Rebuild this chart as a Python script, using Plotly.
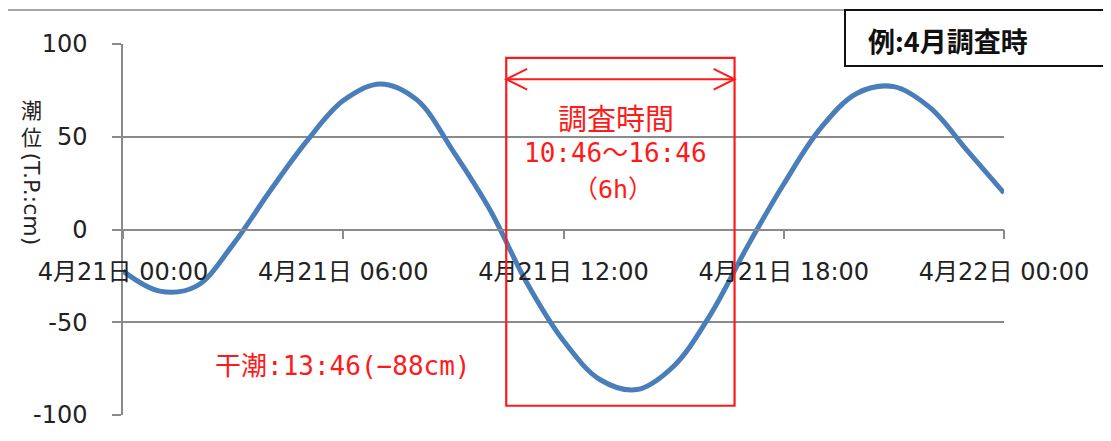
import plotly.graph_objects as go

# ---- data (hourly) ----
hours = list(range(0, 25))
tide_cm = [-22.4, -33.2, -30.5, -8, 20.6, 47.5, 69.5, 78.5, 70, 42, 10.5,
           -28.7, -60, -81, -86.3, -73.7, -46, -9.5, 24.5, 54.5, 73.5, 77,
           65.4, 42.5, 19.7]

tick_hours = [0, 6, 12, 18, 24]
tick_labels = ["4月21日 00:00", "4月21日 06:00", "4月21日 12:00",
               "4月21日 18:00", "4月22日 00:00"]
y_ticks = [-100, -50, 0, 50, 100]
y_labels = ["-100", "-50", "0", "50", "100"]

survey_start, survey_end = 10.44, 16.66   # red box edges as drawn
box_bottom, box_top = -95, 92.5
arrow_y = 81

W, H = 1111, 441
OFF = 8  # page body margin
# plot area in page pixels: x 123..1004, y 44..415
L, T = 123 - OFF, 44 - OFF
R = W - (1004 - OFF)
B = H - (415 - OFF)
FONT = "DejaVu Sans, Noto Sans CJK JP, sans-serif"
JFONT = "Noto Sans CJK JP, sans-serif"
MFONT = "DejaVu Sans Mono, Noto Sans CJK JP, monospace"
GRID = "#8a8a8a"
RED = "#ff1a1a"


def px_x(px):
    return (px - OFF - L) / (W - L - R)


def px_y(py):
    return (H - B - (py - OFF)) / (H - T - B)


fig = go.Figure()
fig.add_trace(go.Scatter(
    x=hours, y=tide_cm, mode="lines",
    line=dict(color="#4a7ebb", width=5, shape="spline", smoothing=1.0),
    hoverinfo="skip", showlegend=False))

shapes = []
shapes.append(dict(type="rect", xref="x", yref="y", x0=survey_start, x1=survey_end,
                   y0=box_bottom, y1=box_top, line=dict(color=RED, width=2.2)))
shapes.append(dict(type="line", xref="x", yref="y", x0=survey_start, x1=survey_end,
                   y0=arrow_y, y1=arrow_y, line=dict(color=RED, width=2)))
dx, dy = 0.57, 5.6
shapes.append(dict(type="path", xref="x", yref="y",
                   path=f"M {survey_start+dx},{arrow_y+dy} L {survey_start},{arrow_y} L {survey_start+dx},{arrow_y-dy}",
                   line=dict(color=RED, width=2)))
shapes.append(dict(type="path", xref="x", yref="y",
                   path=f"M {survey_end-dx},{arrow_y+dy} L {survey_end},{arrow_y} L {survey_end-dx},{arrow_y-dy}",
                   line=dict(color=RED, width=2)))
shapes.append(dict(type="line", xref="paper", yref="paper", x0=px_x(8), x1=px_x(845),
                   y0=px_y(10), y1=px_y(10), line=dict(color=GRID, width=1.5)))
shapes.append(dict(type="rect", xref="paper", yref="paper", x0=px_x(845), x1=px_x(1130),
                   y0=px_y(66), y1=px_y(10), line=dict(color="#111", width=2),
                   fillcolor="white"))

annotations = []
annotations.append(dict(xref="paper", yref="paper", x=px_x(866), y=px_y(40),
                        xanchor="left", yanchor="middle", showarrow=False,
                        text="<b>例:4月調査時</b>",
                        font=dict(family=JFONT, size=27, color="#111")))
annotations.append(dict(xref="x", yref="y", x=13.42, y=60.8, showarrow=False,
                        text="調査時間", xanchor="center", yanchor="middle",
                        font=dict(family=JFONT, size=29, color=RED)))
annotations.append(dict(xref="x", yref="y", x=13.42, y=41.4, showarrow=False,
                        text="10:46〜16:46", xanchor="center", yanchor="middle",
                        font=dict(family=MFONT, size=26, color=RED)))
annotations.append(dict(xref="x", yref="y", x=13.35, y=21.5, showarrow=False,
                        text="（6h）", xanchor="center", yanchor="middle",
                        font=dict(family=MFONT, size=25, color=RED)))
annotations.append(dict(xref="x", yref="y", x=2.45, y=-73.7, showarrow=False,
                        text="干潮:13:46(−88cm)", xanchor="left", yanchor="middle",
                        font=dict(family=MFONT, size=26, color=RED)))
# vertical-style y-axis title: upright kanji, then rotated Latin part
annotations.append(dict(xref="paper", yref="paper", x=px_x(31), y=px_y(92),
                        showarrow=False, text="潮<br>位", xanchor="center", yanchor="top",
                        font=dict(family=JFONT, size=21, color="#222")))
annotations.append(dict(xref="paper", yref="paper", x=px_x(31), y=px_y(150),
                        showarrow=False, text="(T.P.:cm)", textangle=90,
                        xanchor="center", yanchor="top",
                        font=dict(family=FONT, size=22, color="#222")))

fig.update_layout(
    width=W, height=H,
    margin=dict(l=L, r=R, t=T, b=B, pad=0),
    paper_bgcolor="white", plot_bgcolor="white",
    shapes=shapes, annotations=annotations,
    font=dict(family=FONT, size=22, color="#222"),
    xaxis=dict(range=[0, 24], tickvals=tick_hours, ticktext=tick_labels,
               anchor="free", position=0.5, showgrid=False, zeroline=False,
               showline=True, linecolor=GRID, linewidth=1.5, automargin=False,
               ticks="outside", ticklen=9, tickwidth=1.5, tickcolor=GRID,
               ticklabelstandoff=12,
               tickfont=dict(family=FONT, size=24, color="#222")),
    yaxis=dict(range=[-100, 100], tickvals=y_ticks, ticktext=y_labels,
               showgrid=True, gridcolor=GRID, automargin=False,
               gridwidth=1.5, zeroline=False, showline=True, linecolor=GRID,
               linewidth=1.5, ticks="outside", ticklen=9, tickwidth=1.5,
               tickcolor=GRID, ticklabelstandoff=20,
               tickfont=dict(family=FONT, size=24, color="#222")),
)

fig.write_html("out.html")
